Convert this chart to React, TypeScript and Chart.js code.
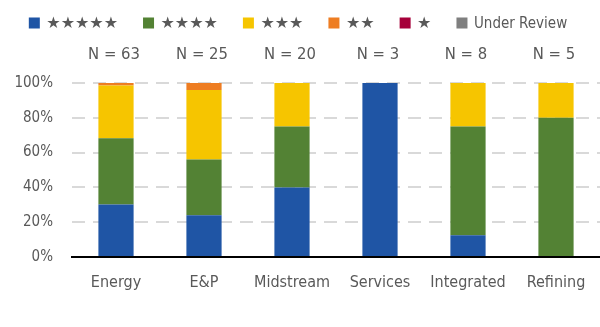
import React, { useEffect, useRef } from "react";
import { Chart, registerables } from "chart.js";

Chart.register(...registerables);

const categories = ["Energy", "E&P", "Midstream", "Services", "Integrated", "Refining"];
const sampleSizes = [63, 25, 20, 3, 8, 5];
const fiveStar = [30.2, 24, 40, 100, 12.5, 0];
const fourStar = [38.1, 32, 35, 0, 62.5, 80];
const threeStar = [30.2, 40, 25, 0, 25, 20];
const twoStar = [1.5, 4, 0, 0, 0, 0];
const oneStar = [0, 0, 0, 0, 0, 0];
const underReview = [0, 0, 0, 0, 0, 0];
const seriesLabels = ["★★★★★", "★★★★", "★★★", "★★", "★", "Under Review"];
const seriesColors = ["#1f55a5", "#538234", "#f6c500", "#ee7d22", "#a6003a", "#7f7f7f"];
const yTicks = [0, 20, 40, 60, 80, 100];

const FONT = "'DejaVu Sans Condensed', 'DejaVu Sans', sans-serif";
const STAR_FONT = "'DejaVu Sans', sans-serif";
const TEXT = "#595959";

export default function App() {
  const ref = useRef<HTMLCanvasElement | null>(null);

  useEffect(() => {
    document.body.style.margin = "0";
    const canvas = ref.current;
    if (!canvas) return;

    const annotations = {
      id: "annotations",
      afterDraw(chart: any) {
        const ctx = chart.ctx;
        const xs = chart.scales.x;
        ctx.save();
        // N labels above bars
        ctx.font = `16.5px ${FONT}`;
        ctx.fillStyle = TEXT;
        ctx.textAlign = "center";
        ctx.textBaseline = "alphabetic";
        sampleSizes.forEach((n, i) => {
          ctx.fillText(`N = ${n}`, xs.getPixelForValue(i) - 2, chart.chartArea.top - 24);
        });

        // legend
        const box = 11;
        const gapText = 6.5;
        const gapItem = 25;
        const items = chart.data.datasets.map((ds: any) => {
          const isStars = /^★+$/.test(ds.label);
          const font = isStars ? `16px ${STAR_FONT}` : `15px ${FONT}`;
          ctx.font = font;
          return { label: ds.label, color: ds.backgroundColor, font, w: ctx.measureText(ds.label).width };
        });
        const total =
          items.reduce((s: number, it: any) => s + box + gapText + it.w, 0) + gapItem * (items.length - 1);
        let x = (chart.width - total) / 2 - 2;
        const cy = 23;
        ctx.textAlign = "left";
        ctx.textBaseline = "middle";
        items.forEach((it: any) => {
          ctx.fillStyle = it.color;
          ctx.fillRect(x, cy - box / 2, box, box);
          x += box + gapText;
          ctx.font = it.font;
          ctx.fillStyle = TEXT;
          ctx.fillText(it.label, x, cy + 1);
          x += it.w + gapItem;
        });
        ctx.restore();
      },
    };

    const mk = (i: number, data: number[]) => ({
      label: seriesLabels[i],
      data,
      backgroundColor: seriesColors[i],
      borderWidth: 0,
      categoryPercentage: 0.8,
      barPercentage: 0.5,
    });

    const chart = new Chart(canvas, {
      type: "bar",
      data: {
        labels: categories,
        datasets: [
          mk(0, fiveStar),
          mk(1, fourStar),
          mk(2, threeStar),
          mk(3, twoStar),
          mk(4, oneStar),
          mk(5, underReview),
        ],
      },
      options: {
        responsive: false,
        animation: false,
        layout: { padding: { top: 83, left: 0, right: 0, bottom: 0 } },
        plugins: {
          legend: { display: false },
          tooltip: { enabled: false },
        },
        scales: {
          x: {
            stacked: true,
            grid: { display: false },
            border: { display: true, color: "#000000", width: 2 },
            ticks: {
              color: TEXT,
              font: { family: FONT, size: 16 },
              padding: 8,
              maxRotation: 0,
              autoSkip: false,
            },
            afterFit(scale: any) {
              scale.height = 70;
            },
          },
          y: {
            stacked: true,
            min: 0,
            max: 100,
            afterBuildTicks(scale: any) {
              scale.ticks = yTicks.map((v) => ({ value: v }));
            },
            grid: {
              drawTicks: false,
              lineWidth: 2,
              color: (c: any) => (c.tick && c.tick.value === 0 ? "rgba(0,0,0,0)" : "#d9d9d9"),
            },
            border: { display: false, dash: [13, 8] },
            ticks: {
              color: TEXT,
              font: { family: FONT, size: 15 },
              padding: 19,
              callback: (v: any) => `${v}%`,
            },
            afterFit(scale: any) {
              scale.width = 72;
            },
          },
        },
      },
      plugins: [annotations],
    } as any);

    return () => chart.destroy();
  }, []);

  return (
    <div style={{ width: 600, height: 327, background: "#ffffff" }}>
      <canvas ref={ref} width={600} height={327} />
    </div>
  );
}
